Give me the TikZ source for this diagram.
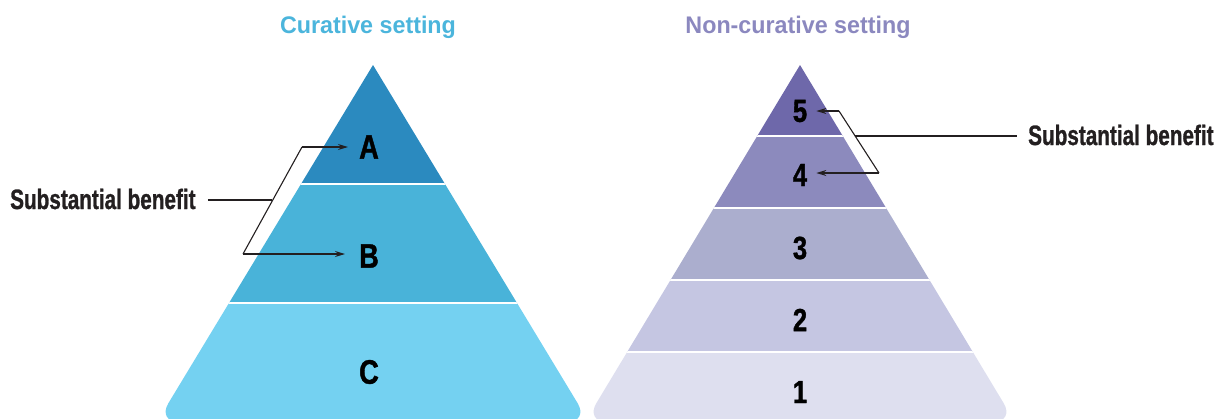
\documentclass[tikz,border=0pt]{standalone}
\usepackage{fontspec}
\setmainfont{Liberation Sans}[FakeStretch=0.74, FakeBold=1]
\newfontfamily\labfont{Liberation Sans}[FakeStretch=0.8, FakeBold=1.2]
\newfontfamily\headfont{Liberation Sans}[FakeStretch=0.97]
\usetikzlibrary{arrows.meta}

\definecolor{cureT}{HTML}{4BB5DC}
\definecolor{cureA}{HTML}{2B8ABF}
\definecolor{cureB}{HTML}{49B3D9}
\definecolor{cureC}{HTML}{74D1F1}
\definecolor{palT}{HTML}{8B88BF}
\definecolor{palV}{HTML}{6E68AA}
\definecolor{palIV}{HTML}{8C8ABD}
\definecolor{palIII}{HTML}{ABAECE}
\definecolor{palII}{HTML}{C5C6E2}
\definecolor{palI}{HTML}{DEDFEF}
\definecolor{ink}{HTML}{231F20}

\begin{document}
\begin{tikzpicture}[x=1pt, y=-1pt,
  gap/.style={white, line width=2pt},
  lbl/.style={font=\labfont\fontsize{34}{34}\selectfont\bfseries, inner sep=0pt},
  num/.style={font=\labfont\fontsize{32}{32}\selectfont\bfseries, inner sep=0pt},
  note/.style={font=\fontsize{28}{28}\selectfont\bfseries, text=ink, inner sep=0pt},
  head/.style={font=\headfont\fontsize{24}{24}\selectfont\bfseries, inner sep=0pt},
  link/.style={ink, line width=1.1pt},
  arr/.style={link, -{Stealth[length=10pt, width=6pt]}}]

\useasboundingbox (0,0) rectangle (1222,418);

%Otsikot
\node[head, text=cureT] (tL) at (368,27) {Curative setting};
\node[head, text=palT] (tR) at (798,27) {Non-curative setting};

%Kuratiivinen pyramidi
\begin{scope}
\clip (373,65) [rounded corners=22pt] -- (157,422) -- (589,422) [sharp corners] -- cycle;
\fill[cureA] (140,60) rectangle (600,184);
\fill[cureB] (140,184) rectangle (600,303);
\fill[cureC] (140,303) rectangle (600,430);
\draw[gap] (140,184) -- (600,184);
\draw[gap] (140,303) -- (600,303);
\end{scope}

%Palliatiivinen pyramidi
\begin{scope}
\clip (800,65) [rounded corners=22pt] -- (585,422) -- (1015,422) [sharp corners] -- cycle;
\foreach \c/\ya/\yb in {palV/60/136, palIV/136/208, palIII/208/280, palII/280/352, palI/352/430}
	\fill[\c] (570,\ya) rectangle (1030,\yb);
\foreach \y in {136, 208, 280, 352}
	\draw[gap] (570,\y) -- (1030,\y);
\end{scope}

%Tasot
\node[lbl] (A) at (369,147) {A};
\node[lbl] (B) at (369,256) {B};
\node[lbl] (C) at (369,372) {C};
\foreach \n/\y in {5/111, 4/175, 3/248, 2/320, 1/392}
	\node[num] (n\n) at (800,\y) {\n};

%Hyoty vasen
\node[note, anchor=west] (sbL) at (10,199) {Substantial benefit};
\coordinate (kA) at (302,147);
\coordinate (kB) at (243,254);
\coordinate (jL) at (272,200);
\draw[link, shorten <=12pt] (sbL.east |- jL) -- (jL);
\draw[link] (kA) -- (kB);
\draw[arr, shorten >=11pt] (kA) -- (kA -| A.west);
\draw[arr, shorten >=14pt] (kB) -- (kB -| B.west);

%Hyoty oikea
\node[note, anchor=west] (sbR) at (1028,135) {Substantial benefit};
\coordinate (k5) at (839,111);
\coordinate (k4) at (879,173);
\coordinate (jR) at (855,136);
\draw[link, shorten >=11pt] (jR) -- (jR -| sbR.west);
\draw[link] (k5) -- (k4);
\draw[arr, shorten >=9pt] (k5) -- (k5 -| n5.east);
\draw[arr, shorten >=9pt] (k4) -- (k4 -| n4.east);

\end{tikzpicture}
\end{document}
